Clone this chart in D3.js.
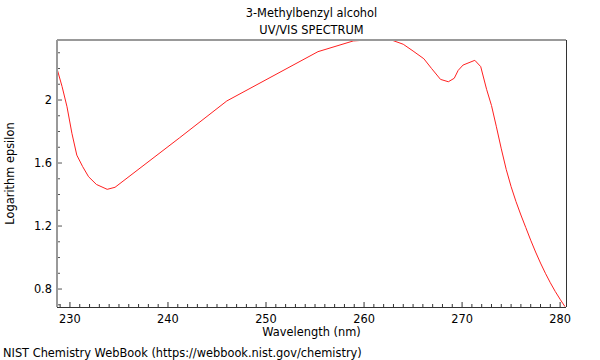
<!DOCTYPE html>
<html>
<head>
<meta charset="utf-8">
<script src="https://cdn.jsdelivr.net/npm/d3@7"></script>
<style>
  body { margin: 0; background: #fff; }
  text { font-family: "DejaVu Sans", sans-serif; fill: #000; font-size: 11.4px; }
</style>
</head>
<body>
<div id="chart"></div>
<script>
// spectrum
var wavelength = [228.7, 229.2, 229.7, 230.2, 230.7, 231.3, 231.9, 232.7, 233.8, 234.6,
  241.2, 246.0, 255.3, 258.9, 260.3, 262.8, 264.0, 265.0, 266.1, 266.9, 267.8, 268.6,
  269.2, 269.6, 270.1, 271.3, 271.9, 272.5, 273.0, 273.5, 274.0, 274.5, 275.0, 275.5,
  276.0, 276.5, 277.0, 277.5, 278.0, 278.5, 279.0, 279.5, 280.0, 280.5];
var logEps = [2.195, 2.085, 1.957, 1.789, 1.65, 1.577, 1.513, 1.464, 1.433, 1.446,
  1.761, 1.994, 2.307, 2.375, 2.381, 2.381, 2.354, 2.311, 2.262, 2.199, 2.131, 2.116,
  2.138, 2.188, 2.222, 2.252, 2.212, 2.068, 1.965, 1.83, 1.69, 1.56, 1.45, 1.355,
  1.27, 1.19, 1.11, 1.035, 0.965, 0.9, 0.84, 0.785, 0.735, 0.688];
var xTicks = [230, 240, 250, 260, 270, 280];
var yTicks = [0.8, 1.2, 1.6, 2];

var margin = { top: 40, left: 57, right: 34, bottom: 53 },
    width = 600 - margin.left - margin.right,
    height = 360 - margin.top - margin.bottom;

var root = d3.select("#chart").append("svg")
  .attr("width", 600)
  .attr("height", 360);

var svg = root.append("g")
  .attr("transform", "translate(" + margin.left + "," + margin.top + ")");

var x = d3.scaleLinear().domain([228.68, 280.6]).range([0, width]);
var y = d3.scaleLinear().domain([0.686, 2.381]).range([height, 0]);

// minor ticks
var xMinor = d3.range(229, 281, 1).filter(function(d) { return xTicks.indexOf(d) < 0; });
var yMinor = d3.range(7, 24).map(function(d) { return d / 10; })
  .filter(function(d) { return yTicks.indexOf(d) < 0; });

svg.selectAll(".xminor").data(xMinor).enter().append("line")
  .attr("x1", function(d) { return x(d); })
  .attr("x2", function(d) { return x(d); })
  .attr("y1", height).attr("y2", height - 3)
  .attr("stroke", "#333");

svg.selectAll(".xmajor").data(xTicks).enter().append("line")
  .attr("x1", function(d) { return x(d); })
  .attr("x2", function(d) { return x(d); })
  .attr("y1", height).attr("y2", height - 5)
  .attr("stroke", "#333");

svg.selectAll(".yminor").data(yMinor).enter().append("line")
  .attr("x1", 0).attr("x2", 3)
  .attr("y1", function(d) { return y(d); })
  .attr("y2", function(d) { return y(d); })
  .attr("stroke", "#555");

svg.selectAll(".ymajor").data(yTicks).enter().append("line")
  .attr("x1", 0).attr("x2", 5)
  .attr("y1", function(d) { return y(d); })
  .attr("y2", function(d) { return y(d); })
  .attr("stroke", "#555");

// tick labels
svg.selectAll(".xlab").data(xTicks).enter().append("text")
  .attr("x", function(d) { return x(d); })
  .attr("y", height + 16)
  .attr("text-anchor", "middle")
  .text(function(d) { return d; });

svg.selectAll(".ylab").data(yTicks).enter().append("text")
  .attr("x", -5)
  .attr("y", function(d) { return y(d) + 4; })
  .attr("text-anchor", "end")
  .text(function(d) { return d; });

// the curve
var line = d3.line()
  .x(function(d) { return x(d[0]); })
  .y(function(d) { return y(d[1]); });

svg.append("path")
  .datum(d3.zip(wavelength, logEps))
  .attr("d", line)
  .attr("fill", "none")
  .attr("stroke", "#ff2020")
  .attr("stroke-width", 1);

// frame: grey top/left, dark bottom/right
svg.append("line").attr("x1", 0).attr("x2", width).attr("y1", 0).attr("y2", 0)
  .attr("stroke", "#999").attr("stroke-width", 2);
svg.append("line").attr("x1", 0).attr("x2", 0).attr("y1", 0).attr("y2", height)
  .attr("stroke", "#999").attr("stroke-width", 2);
svg.append("line").attr("x1", 0).attr("x2", width).attr("y1", height + 0.5).attr("y2", height + 0.5)
  .attr("stroke", "#333");
svg.append("line").attr("x1", width + 0.5).attr("x2", width + 0.5).attr("y1", 0).attr("y2", height)
  .attr("stroke", "#333");

// titles
root.append("text")
  .attr("x", margin.left + width / 2).attr("y", 17)
  .attr("text-anchor", "middle")
  .text("3-Methylbenzyl alcohol");
root.append("text")
  .attr("x", margin.left + width / 2).attr("y", 34)
  .attr("text-anchor", "middle")
  .text("UV/VIS SPECTRUM");

root.append("text")
  .attr("x", margin.left + width / 2).attr("y", 336)
  .attr("text-anchor", "middle")
  .text("Wavelength (nm)");

root.append("text")
  .attr("transform", "translate(14," + (margin.top + height / 2) + ") rotate(-90)")
  .attr("text-anchor", "middle")
  .text("Logarithm epsilon");

root.append("text")
  .attr("x", 3).attr("y", 357)
  .text("NIST Chemistry WebBook (https://webbook.nist.gov/chemistry)");
</script>
</body>
</html>
